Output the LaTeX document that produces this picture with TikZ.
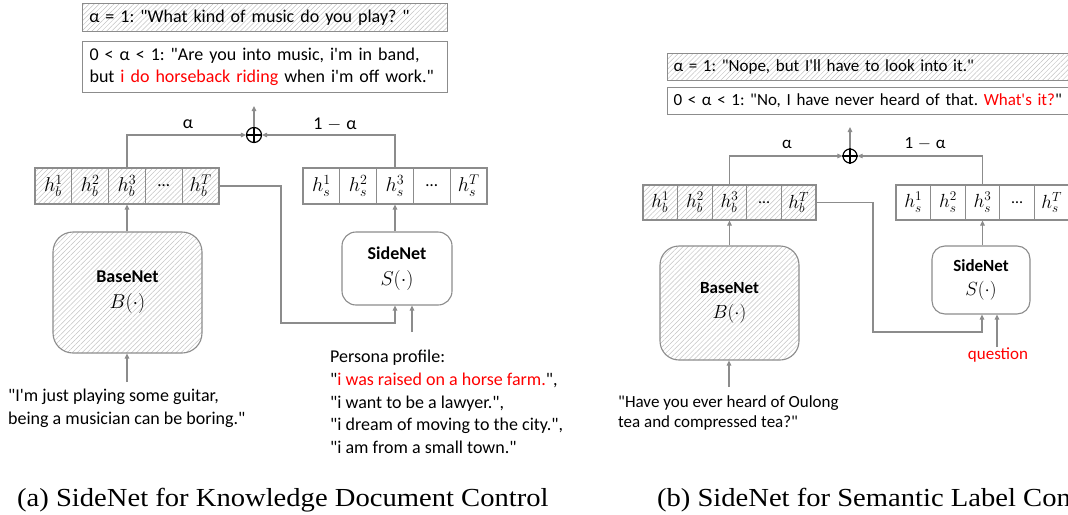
\RequirePackage{fix-cm}
\documentclass[tikz,border=0pt]{standalone}
\usepackage{fontspec}
\setmainfont{Carlito}[Ligatures=TeXOff]
\newfontfamily\capfont{Liberation Serif}
\usetikzlibrary{patterns.meta,arrows.meta,calc}
\definecolor{lc}{HTML}{8C8C8C}
\definecolor{hc}{HTML}{C4C4C4}
\definecolor{rd}{HTML}{FF0000}
\frenchspacing
\begin{document}
\begin{tikzpicture}[x=1pt,y=-1pt,
  hatch/.style={pattern={Lines[angle=45,distance=3.5pt,line width=0.5pt]},pattern color=hc},
  frame/.style={draw=lc,line width=1.1pt},
  arr/.style={draw=lc,line width=1.1pt,-{Triangle[length=5pt,width=4.5pt]}},
  fL/.style={font=\fontsize{18}{22}\selectfont},
  fR/.style={font=\fontsize{17}{21}\selectfont},
  cellL/.style={frame,font=\fontsize{20}{24}\selectfont,minimum width=36.8pt,minimum height=36pt,inner sep=0pt},
  cellR/.style={frame,font=\fontsize{19}{23}\selectfont,minimum width=34.6pt,minimum height=35pt,inner sep=0pt},
  qbox/.style={frame,anchor=north west,align=left,inner xsep=7pt,inner ysep=0pt},
  plusnode/.style={circle,draw=black,line width=1.2pt,minimum size=15pt,inner sep=0pt},
  sumlab/.style={inner sep=1pt},
  plaintext/.style={anchor=north west,align=left,inner sep=0pt},
  captext/.style={anchor=base west,inner sep=0pt,font=\capfont\fontsize{26}{30}\selectfont}
]
\useasboundingbox (0,0) rectangle (1068,514);
\fill[white] (0,0) rectangle (1068,514);
\clip (0,0) rectangle (1068,514);

% ---------------- (a) ----------------
\node[qbox,hatch,fL,minimum width=365pt,minimum height=28pt,text width=351pt] (qA1) at (82,3)
  {α = 1: "What kind of music do you play? "};
\node[qbox,fL,minimum width=365pt,minimum height=51pt,text width=351pt] (qA2) at (82,41)
  {0 < α < 1: "Are you into music, i'm in band,\\but \textcolor{rd}{i do horseback riding} when i'm off work."};

\node[plusnode] (pA) at (254,135) {};
\draw[line width=1.2pt] (pA.north) -- (pA.south) (pA.west) -- (pA.east);
\coordinate (oA) at (254,106);
\draw[arr] (pA.north) -- (oA);
\node[sumlab,fL] (aA) at (188,124) {α};
\node[sumlab,fL] (bA) at (335,124) {1\;$-$\;α};

\foreach \i/\t in {1/$h_b^1$,2/$h_b^2$,3/$h_b^3$,4/{\fontsize{17}{20}\selectfont …},5/$h_b^T$}
  \node[cellL,hatch] (hb\i) at ({35+36.8*(\i-0.5)},186) {\t};
\foreach \i/\t in {1/$h_s^1$,2/$h_s^2$,3/$h_s^3$,4/{\fontsize{17}{20}\selectfont …},5/$h_s^T$}
  \node[cellL] (hs\i) at ({303+36.8*(\i-0.5)},186) {\t};

\node[frame,hatch,fL,rounded corners=20pt,minimum width=149pt,minimum height=121pt,align=center] (bnA) at (127.5,292.5)
  {\textbf{BaseNet}\\[4pt]{\fontsize{20}{24}\selectfont$B(\cdot)$}};
\node[frame,fL,rounded corners=14pt,minimum width=110pt,minimum height=73pt,align=center] (snA) at (397,268.5)
  {\textbf{SideNet}\\[4pt]{\fontsize{20}{24}\selectfont$S(\cdot)$}};

\draw[arr] (hb3.north) |- (pA.west);
\draw[arr] (hs3.north) |- (pA.east);
\draw[arr] (bnA.north -| hb3) -- (hb3.south);
\draw[arr] (snA.north -| hs3) -- (hs3.south);
\coordinate (jA) at (281,323);
\draw[arr] (hb5.east) -| (jA) -| ($(snA.south)+(-2,0)$);
\coordinate (inA) at (412,332);
\draw[arr] (inA) -- (inA |- snA.south);
\coordinate (iA) at (127,382);
\draw[arr] (iA) -- (iA |- bnA.south);

\node[plaintext,font=\fontsize{18}{22.5}\selectfont] (uA) at (8,389)
  {"I'm just playing some guitar,\\being a musician can be boring."};
\node[plaintext,font=\fontsize{18}{22.7}\selectfont] (ppA) at (330,350)
  {Persona profile:\\"\textcolor{rd}{i was raised on a horse farm.}",\\"i want to be a lawyer.",\\"i dream of moving to the city.",\\"i am from a small town."};

% ---------------- (b) ----------------
\node[qbox,hatch,fR,inner xsep=6pt,minimum width=420pt,minimum height=27pt,text width=408pt] (qB1) at (667,53)
  {α = 1: "Nope, but I'll have to look into it."};
\node[qbox,fR,inner xsep=6pt,minimum width=420pt,minimum height=27pt,text width=408pt] (qB2) at (667,87)
  {0 < α < 1: "No, I have never heard of that. \textcolor{rd}{What's it?}"};

\node[plusnode,minimum size=14pt] (pB) at (850,156) {};
\draw[line width=1.2pt] (pB.north) -- (pB.south) (pB.west) -- (pB.east);
\coordinate (oB) at (850,127);
\draw[arr] (pB.north) -- (oB);
\node[sumlab,fR] (aB) at (787,144) {α};
\node[sumlab,fR] (bB) at (925,144) {1\;$-$\;α};

\foreach \i/\t in {1/$h_b^1$,2/$h_b^2$,3/$h_b^3$,4/{\fontsize{16}{19}\selectfont …},5/$h_b^T$}
  \node[cellR,hatch] (gb\i) at ({643+34.6*(\i-0.5)},202.5) {\t};
\foreach \i/\t in {1/$h_s^1$,2/$h_s^2$,3/$h_s^3$,4/{\fontsize{16}{19}\selectfont …},5/$h_s^T$}
  \node[cellR] (gs\i) at ({896+34.6*(\i-0.5)},202.5) {\t};

\node[frame,hatch,fR,rounded corners=19pt,minimum width=139pt,minimum height=114pt,align=center] (bnB) at (729.5,303)
  {\textbf{BaseNet}\\[4pt]{\fontsize{19}{23}\selectfont$B(\cdot)$}};
\node[frame,fR,rounded corners=13pt,minimum width=98pt,minimum height=68pt,align=center] (snB) at (981,280)
  {\textbf{SideNet}\\[3pt]{\fontsize{19}{23}\selectfont$S(\cdot)$}};

\draw[arr] (gb3.north) |- (pB.west);
\draw[arr] (gs3.north) |- (pB.east);
\draw[arr] (bnB.north -| gb3) -- (gb3.south);
\draw[arr] (snB.north -| gs3) -- (gs3.south);
\coordinate (jB) at (873,332);
\draw[arr] (gb5.east) -| (jB) -| ($(snB.south)+(1,0)$);
\coordinate (inB) at (997,347);
\draw[arr] (inB) -- (inB |- snB.south);
\coordinate (iB) at (729,387);
\draw[arr] (iB) -- (iB |- bnB.south);

\node[fR,text=rd,inner sep=0pt] (qn) at (998,355) {question};
\node[plaintext,font=\fontsize{17}{20.5}\selectfont] (uB) at (618,395)
  {"Have you ever heard of Oulong\\tea and compressed tea?"};

% ---------------- captions ----------------
\node[captext] (capA) at (17,506) {\scalebox{1.1}[1]{(a) SideNet for Knowledge Document Control}};
\node[captext,anchor=base east] (capB) at (1071,506) {\scalebox{1.1}[1]{(b) SideNet for Semantic Label Con}};
\end{tikzpicture}
\end{document}
